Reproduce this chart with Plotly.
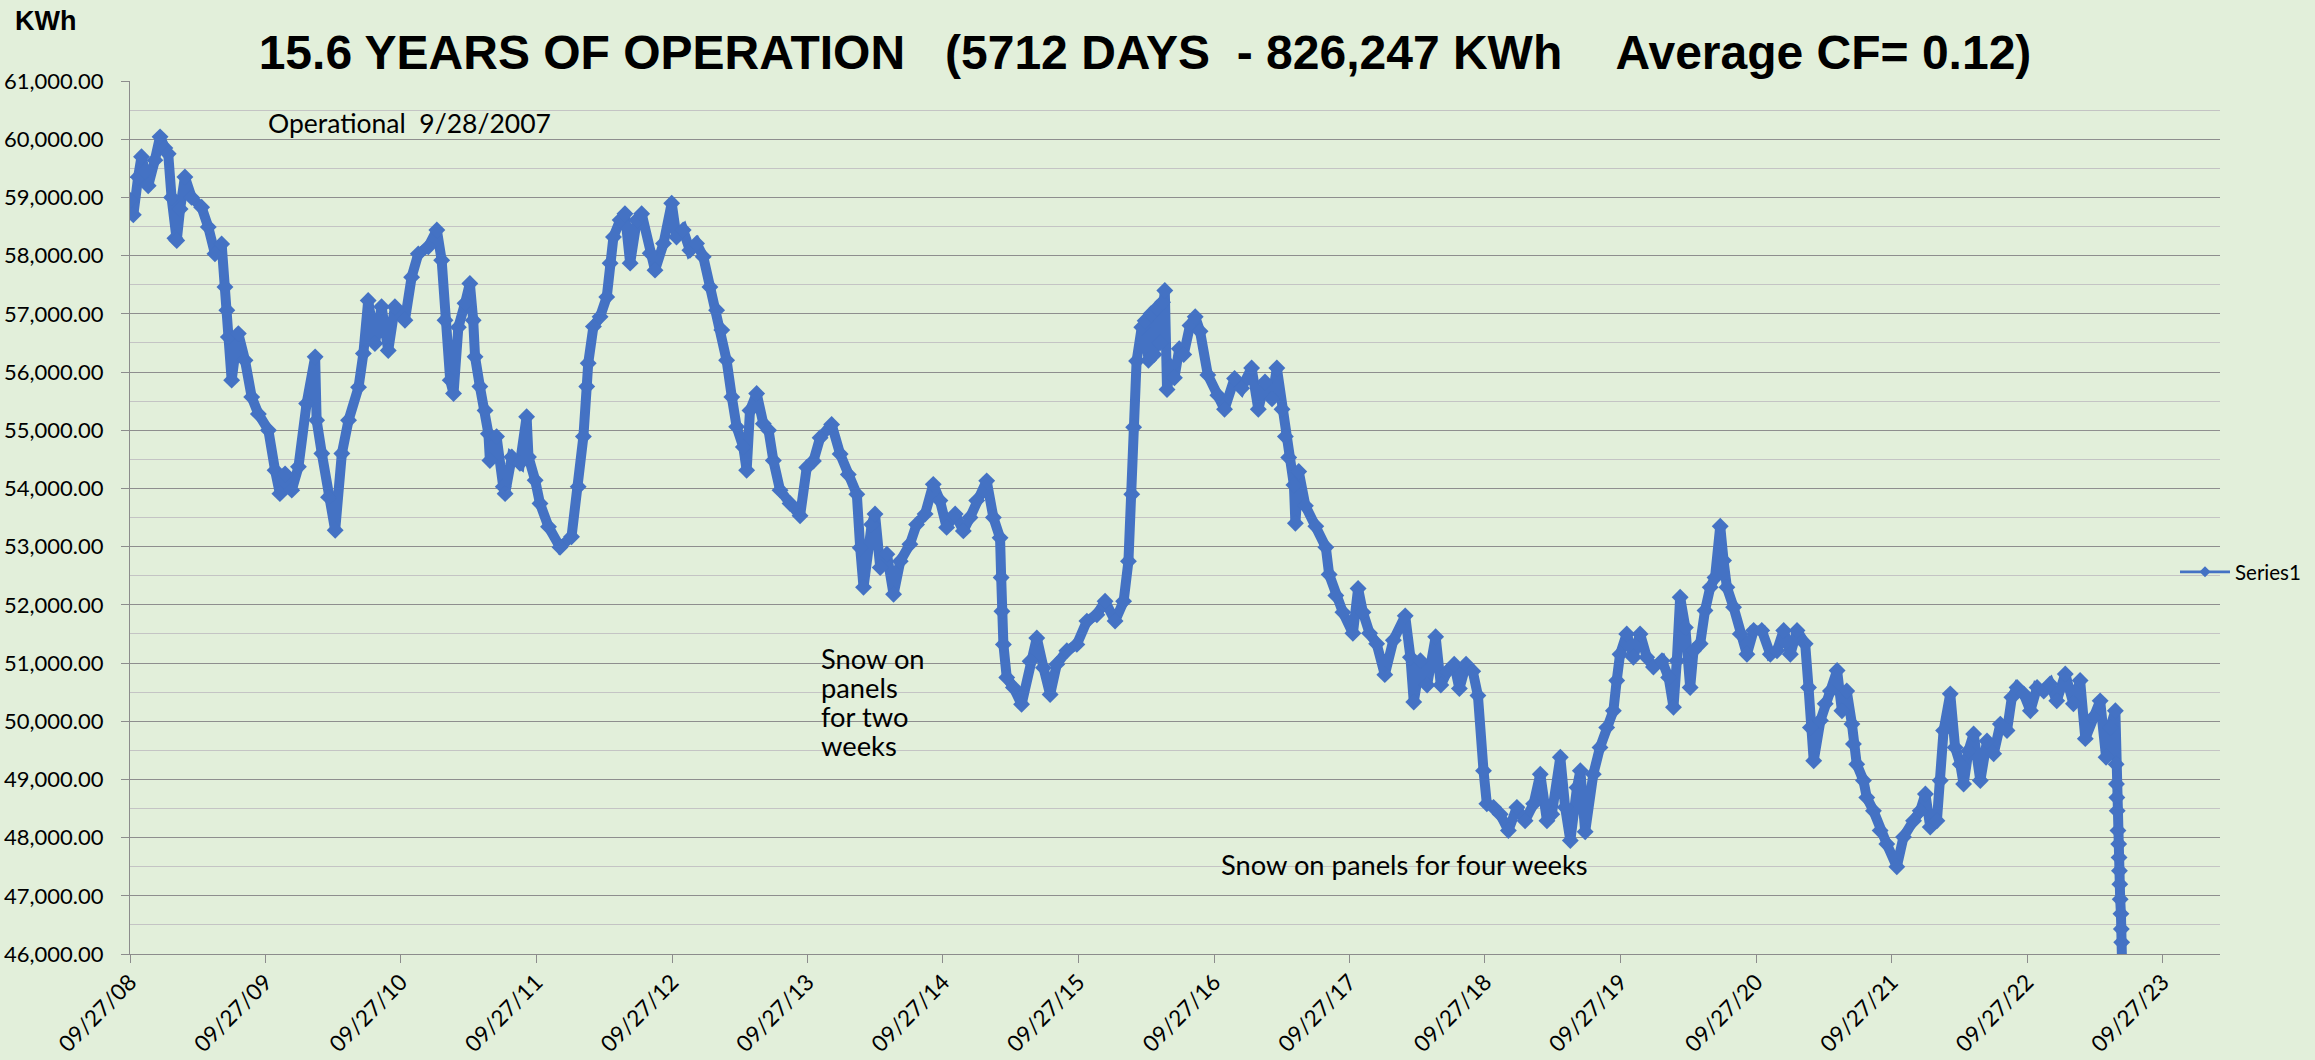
import pandas as pd
import plotly.graph_objects as go

# ---- data: rolling 365-day production (KWh) ----
START_DATE = "2008-09-27"
DAYS = [
    0, 9, 22, 31, 40, 49, 67, 81, 94, 103, 112, 121, 126, 135, 148, 166, 193, 211, 229, 247,
    256, 261, 265, 274, 283, 292, 310, 328, 346, 373, 391, 404, 418, 436, 454, 476, 499, 503, 517, 535,
    553, 571, 589, 616, 629, 642, 660, 678, 696, 714, 741, 759, 777, 804, 827, 840, 849, 863, 872, 885,
    903, 916, 925, 930, 943, 957, 966, 970, 988, 1006, 1011, 1029, 1051, 1069, 1074, 1092, 1105, 1128, 1159, 1190,
    1208, 1222, 1231, 1235, 1249, 1267, 1285, 1294, 1303, 1321, 1334, 1348, 1366, 1379, 1402, 1415, 1438, 1460, 1473, 1491,
    1509, 1527, 1545, 1563, 1581, 1595, 1608, 1622, 1635, 1653, 1662, 1671, 1689, 1707, 1721, 1734, 1752, 1779, 1806,
    1824, 1842, 1860, 1891, 1914, 1936, 1959, 1968, 1977, 1999, 2008, 2022, 2040, 2058, 2076, 2102, 2120, 2143, 2165, 2183,
    2201, 2224, 2246, 2264, 2282, 2309, 2327, 2345, 2348, 2350, 2354, 2363, 2381, 2403, 2426, 2444, 2462, 2480, 2498, 2525,
    2552, 2579, 2606, 2628, 2655, 2678, 2691, 2700, 2705, 2713, 2727, 2736,
    2745, 2752, 2760, 2768, 2776, 2783, 2789, 2795, 2805, 2815, 2828, 2840, 2857, 2871, 2884,
    2905, 2932, 2950, 2977, 2996, 3023, 3041, 3059, 3078, 3091, 3105, 3114, 3123, 3137, 3141, 3150, 3168, 3196, 3223, 3232,
    3250, 3269, 3296, 3310, 3323, 3341, 3360, 3382, 3405, 3437, 3451, 3460, 3478, 3496, 3519, 3533, 3551, 3569, 3583, 3601,
    3619, 3633,
    3648, 3657, 3675, 3693, 3715, 3738, 3760, 3783, 3801, 3819, 3832, 3855, 3868, 3882, 3900, 3909, 3922, 3944, 3962, 3980,
    3998, 4007, 4016, 4034, 4052, 4070, 4088, 4106, 4129, 4147, 4160, 4169, 4178, 4192, 4205, 4214, 4232, 4245, 4259, 4272,
    4286, 4295, 4304, 4322, 4340, 4358, 4376, 4398, 4421, 4439, 4457, 4475, 4493, 4515, 4524, 4529, 4538, 4556,
    4569, 4583, 4601, 4614, 4627, 4641, 4645, 4654, 4672, 4681, 4699, 4717, 4735, 4762, 4780, 4807, 4825, 4839, 4852, 4870,
    4879, 4888, 4906, 4919, 4933, 4942, 4955, 4969, 4987, 5005, 5023, 5041, 5059, 5072, 5086, 5104, 5122, 5140, 5158, 5175,
    5193, 5216, 5238, 5256, 5270, 5292, 5310, 5326, 5337, 5351, 5353, 5354, 5355, 5356, 5358, 5360, 5361, 5362, 5363, 5364,
    5366, 5367, 5368, 5369,
]
KWH = [
    58950, 58700, 59350, 59700, 59450, 59200, 59640, 60040, 59850, 59750, 59000, 58300, 58260, 58800, 59350, 59000, 58830, 58490, 58030, 58200,
    57460, 57060, 56600, 55860, 56300, 56660, 56200, 55570, 55280, 55000, 54310, 53910, 54250, 53970, 54370, 55460, 56260, 55170, 54600, 53850,
    53280, 54600, 55170, 55740, 56320, 57230, 56490, 57120, 56370, 57120, 56890, 57630, 58030, 58150, 58440, 57920, 56890, 55860, 55630, 56770,
    57180, 57520, 56890, 56260, 55750, 55340, 54940, 54480, 54890, 54030, 53910, 54540, 54430, 55230, 54540, 54140, 53740, 53340, 52990, 53170,
    54030, 54890, 55750, 56150, 56780, 56950, 57290, 57870, 58320, 58610, 58720, 57870, 58610, 58720, 58040, 57750, 58210, 58900, 58320, 58440,
    58090, 58210, 57980, 57460, 57060, 56720, 56200, 55570, 55060, 54710, 54310, 55340, 55630, 55110, 55000, 54480, 53970, 53740, 53530,
    54360, 54470, 54870, 55100, 54590, 54240, 53900, 52980, 52300, 53380, 53560, 52640, 52870, 52180, 52750, 53040, 53380, 53560, 54070, 53790,
    53330, 53560, 53270, 53500, 53790, 54130, 53500, 53150, 52470, 51890, 51320, 50750, 50580, 50290, 51030, 51430, 50920, 50460, 50980, 51210,
    51320, 51720, 51830, 52060, 51720, 52060, 52750, 53900, 55050, 56190, 56770, 56880,
    56200, 57000, 56300, 57100, 56500, 57200, 57400, 55700, 56100, 55900, 56400, 56300, 56800, 56950, 56700,
    55950, 55600, 55360, 55890, 55720, 56070, 55360, 55830, 55540, 56070, 55360, 54890, 54530, 54060, 53400, 54290, 53700, 53350, 52990, 52520,
    52160, 51870, 51510, 52280, 51870, 51510, 51330, 50800, 51390, 51810, 51100, 50330, 51040, 50620, 51450, 50620, 50860, 50980, 50560, 50980,
    50860, 50440,
    49150, 48580, 48520, 48400, 48120, 48520, 48290, 48580, 49090, 48290, 48400, 49380, 48520, 47950, 48860, 49150, 48100, 49090, 49550, 49890,
    50180, 50700, 51150, 51500, 51100, 51500, 51100, 50930, 51040, 50750, 50240, 51040, 52130, 51610, 50580, 51210, 51330, 51900, 52300, 52470,
    53350, 52760, 52300, 51960, 51500, 51150, 51560, 51560, 51150, 51210, 51560, 51150, 51560, 51330, 50580, 49890, 49320, 50010,
    50300, 50520, 50870, 50180, 50520, 49950, 49610, 49260, 48980, 48690, 48460, 48120, 47890, 47500, 48010, 48290, 48460, 48750, 48180, 48290,
    48980, 49840, 50470, 49550, 49260, 48920, 49490, 49780, 48980, 49660, 49440, 49950, 49840, 50410, 50580, 50470, 50180, 50580, 50520, 50640,
    50350, 50810, 50300, 50700, 49700, 50070, 50350, 49380, 49890, 50180, 49260, 48920, 48690, 48460, 48120, 47890, 47660, 47430, 47200, 46940,
    46690, 46430, 46200, 45850,
]
TICK_DATES = [f"{y}-09-27" for y in range(2008, 2024)]
X_END = "2024-02-29"
Y_MIN, Y_MAX = 46000, 61000

TITLE = "15.6 YEARS OF OPERATION\u00a0\u00a0\u00a0(5712 DAYS\u00a0\u00a0- 826,247 KWh\u00a0\u00a0\u00a0\u00a0Average CF= 0.12)"
SNOW2_LINES = ["Snow on", "panels", "for two", "weeks"]

dates = pd.Timestamp(START_DATE) + pd.to_timedelta(DAYS, unit="D")
tick_ts = pd.to_datetime(TICK_DATES)
tick_text = [t.strftime("%m/%d/%y") for t in tick_ts]

BG = "#E2EFDA"
BLUE = "#4472C4"
CAL = "Lato, Carlito, Calibri, sans-serif"
ARIAL = "Liberation Sans, Arial, sans-serif"

W, H = 2315, 1060
ML, MR, MT, MB = 130, 95, 81, 106
PW, PH = W - ML - MR, H - MT - MB


def px(xp):
    return (xp - ML) / PW


def py(yp):
    return (H - MB - yp) / PH


fig = go.Figure()
# main series: thick band of overlapping diamonds, as in the original
fig.add_trace(go.Scatter(
    x=dates, y=KWH, mode="lines+markers", name="Series1", showlegend=False,
    line=dict(color=BLUE, width=10),
    marker=dict(symbol="diamond", size=13, color=BLUE),
))
# legend entry with the original's legend-sized symbol
fig.add_trace(go.Scatter(
    x=[None], y=[None], mode="lines+markers", name="Series1",
    line=dict(color=BLUE, width=2.7),
    marker=dict(symbol="diamond", size=8.5, color=BLUE),
))

fig.update_layout(
    width=W, height=H,
    margin=dict(l=ML, r=MR, t=MT, b=MB, autoexpand=False),
    paper_bgcolor=BG, plot_bgcolor=BG,
    title=dict(text=TITLE, x=1145 / W, xanchor="center", y=1 - 52 / H, yanchor="middle",
               font=dict(family=ARIAL, size=48, color="black", weight="bold")),
    showlegend=True,
    legend=dict(x=px(2175), y=py(572), xanchor="left", yanchor="middle", itemwidth=50,
                bgcolor="rgba(0,0,0,0)", font=dict(family=CAL, size=20.5, color="black")),
    xaxis=dict(
        type="date", range=[START_DATE, X_END], automargin=False,
        tickmode="array", tickvals=tick_ts, ticktext=tick_text, tickangle=-45,
        ticks="outside", ticklen=8, tickcolor="#8C8C8C", tickwidth=1.3,
        showgrid=False, zeroline=False,
        showline=True, linecolor="#8C8C8C", linewidth=1.3,
        tickfont=dict(family=CAL, size=22.5, color="black"),
        ticklabelstandoff=-3,
    ),
    yaxis=dict(
        range=[Y_MIN, Y_MAX], dtick=1000, tick0=Y_MIN, tickformat=",.2f", automargin=False,
        ticks="outside", ticklen=8, tickcolor="#8C8C8C", tickwidth=1.3,
        showgrid=True, gridcolor="#8E8E8E", gridwidth=1.3,
        minor=dict(dtick=500, tick0=Y_MIN, showgrid=True, gridcolor="#C4C4C4", gridwidth=1.3, ticks=""),
        zeroline=False, showline=True, linecolor="#8C8C8C", linewidth=1.3,
        tickfont=dict(family=CAL, size=22, color="black"),
        ticklabelstandoff=13,
    ),
)

annots = [
    dict(text="KWh", x=px(13), y=py(21), xanchor="left", yanchor="middle",
         font=dict(family=ARIAL, size=27, color="black", weight="bold")),
    dict(text="Operational\u00a0\u00a09/28/2007", x=px(266), y=py(123), xanchor="left", yanchor="middle",
         font=dict(family=CAL, size=26.5, color="black")),
    dict(text="Snow on panels for four weeks", x=px(1219), y=py(864), xanchor="left", yanchor="middle",
         font=dict(family=CAL, size=27.3, color="black")),
]
for i, line in enumerate(SNOW2_LINES):
    annots.append(dict(text=line, x=px(819), y=py(658 + 29 * i), xanchor="left", yanchor="middle",
                       font=dict(family=CAL, size=27.3, color="black")))
for a in annots:
    fig.add_annotation(showarrow=False, xref="paper", yref="paper", **a)

fig.write_html("out.html", config={"displayModeBar": False},
               post_script="document.body.style.margin='0';document.body.style.background='%s';" % BG)
